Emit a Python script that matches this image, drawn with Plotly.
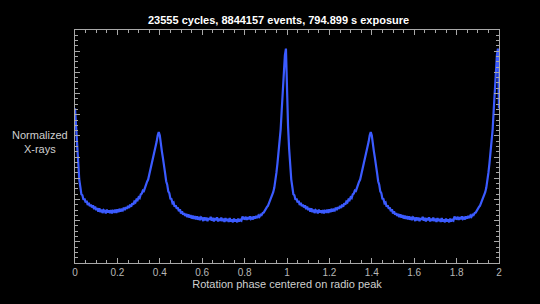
import plotly.graph_objects as go

# One rotation period of the normalized X-ray light curve, bins of 0.005 in phase
bin_width = 0.005
rate = [
    7.30, 6.45, 5.40, 4.60, 3.95, 3.60, 3.25, 3.20, 2.98, 3.04,
    2.86, 2.94, 2.74, 2.84, 2.68, 2.76, 2.62, 2.72, 2.54, 2.66,
    2.50, 2.60, 2.42, 2.58, 2.40, 2.52, 2.36, 2.50, 2.46, 2.34,
    2.52, 2.38, 2.48, 2.36, 2.50, 2.34, 2.46, 2.42, 2.52, 2.36,
    2.54, 2.40, 2.56, 2.44, 2.52, 2.48, 2.62, 2.50, 2.64, 2.56,
    2.70, 2.60, 2.76, 2.66, 2.82, 2.76, 2.90, 2.86, 3.00, 2.96,
    3.10, 3.06, 3.24, 3.28, 3.42, 3.40, 3.58, 3.66, 3.84, 3.94,
    4.16, 4.32, 4.58, 4.74, 5.04, 5.22, 5.52, 5.72, 6.02, 6.18,
    6.02, 5.74, 5.26, 4.94, 4.46, 4.24, 3.86, 3.70, 3.38, 3.30,
    3.04, 3.02, 2.82, 2.86, 2.66, 2.72, 2.56, 2.62, 2.44, 2.54,
    2.34, 2.44, 2.28, 2.36, 2.22, 2.32, 2.16, 2.30, 2.14, 2.26,
    2.10, 2.24, 2.08, 2.22, 2.06, 2.20, 2.04, 2.18, 2.02, 2.16,
    2.12, 1.98, 2.16, 2.02, 2.14, 1.98, 2.12, 2.04, 2.18, 2.00,
    2.14, 1.96, 2.12, 2.02, 2.16, 1.96, 2.10, 2.00, 2.14, 1.98,
    2.10, 1.94, 2.12, 1.98, 2.08, 1.94, 2.12, 1.96, 2.06, 1.92,
    2.10, 1.96, 2.06, 1.92, 2.10, 1.96, 2.04, 2.00, 2.20, 2.10,
    2.08, 2.18, 2.04, 2.16, 2.06, 2.20, 2.08, 2.14, 2.06, 2.20,
    2.10, 2.22, 2.12, 2.24, 2.18, 2.28, 2.26, 2.36, 2.38, 2.48,
    2.52, 2.64, 2.70, 2.84, 2.90, 3.06, 3.16, 3.34, 3.55, 3.85,
    4.25, 4.70, 5.15, 5.70, 6.30, 7.20, 8.10, 9.00, 9.80, 10.12,
]
n_cycles = 2
title_text = "23555 cycles, 8844157 events, 794.899 s exposure"
x_title = "Rotation phase centered on radio peak"
y_title = "Normalized<br>X-rays"
x_ticks = [0, 0.2, 0.4, 0.6, 0.8, 1, 1.2, 1.4, 1.6, 1.8, 2]
x_ticklabels = ["0", "0.2", "0.4", "0.6", "0.8", "1", "1.2", "1.4", "1.6", "1.8", "2"]

phase = []
values = []
for c in range(n_cycles):
    for i, v in enumerate(rate):
        phase.append(c + i * bin_width)
        values.append(v)
phase.append(float(n_cycles))
values.append(rate[0])

fig = go.Figure()
fig.add_trace(go.Scatter(x=phase, y=values, mode="lines",
                         line=dict(color="#3b5bff", width=2.2), hoverinfo="skip"))

axis_col = "#a8a8a8"
fig.update_layout(
    width=540, height=304,
    paper_bgcolor="black", plot_bgcolor="black",
    margin=dict(l=75, r=41, t=30, b=41),
    showlegend=False,
    font=dict(family="Liberation Sans, Arial, sans-serif", color="#cfcfcf", size=11),
    xaxis=dict(range=[0, 2], showgrid=False, zeroline=False,
               showline=True, linecolor=axis_col, linewidth=1, mirror="ticks",
               ticks="inside", ticklen=5, tickcolor=axis_col, tickwidth=1,
               tickvals=x_ticks, ticktext=x_ticklabels,
               tickfont=dict(size=10, color="#b8b8b8"),
               minor=dict(dtick=0.05, ticks="inside", ticklen=3, tickcolor=axis_col, showgrid=False),
               title=dict(text=x_title, font=dict(size=11, color="#cfcfcf"), standoff=0)),
    yaxis=dict(range=[0, 11], showgrid=False, zeroline=False,
               showline=True, linecolor=axis_col, linewidth=1, mirror="ticks",
               ticks="inside", ticklen=5, tickcolor=axis_col, tickwidth=1,
               dtick=1, showticklabels=False,
               minor=dict(dtick=0.25, ticks="inside", ticklen=3, tickcolor=axis_col, showgrid=False)),
    annotations=[
        dict(text="<b>" + title_text + "</b>", xref="paper", yref="paper",
             x=0.479, y=1.0, yshift=2, xanchor="center", yanchor="bottom",
             showarrow=False, font=dict(size=11, color="white")),
        dict(text=y_title, xref="paper", yref="paper", x=-0.083, y=0.52,
             xanchor="center", yanchor="middle", showarrow=False,
             font=dict(size=11, color="#cfcfcf")),
    ],
)
fig.write_html("out.html")
